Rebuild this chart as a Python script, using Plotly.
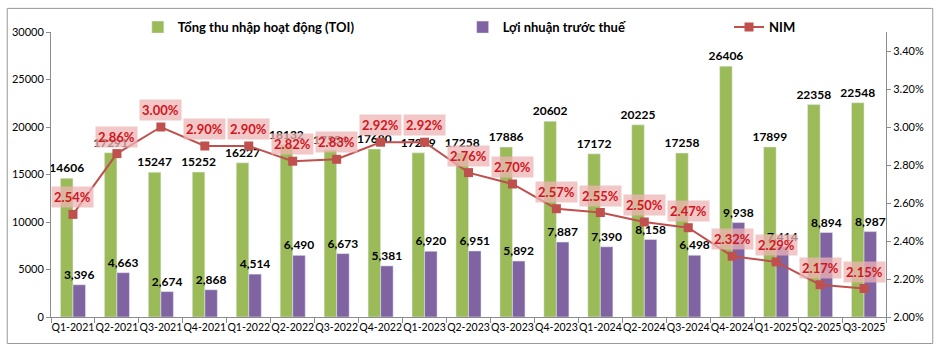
import plotly.graph_objects as go

quarters = ["Q1-2021", "Q2-2021", "Q3-2021", "Q4-2021", "Q1-2022", "Q2-2022", "Q3-2022",
            "Q4-2022", "Q1-2023", "Q2-2023", "Q3-2023", "Q4-2023", "Q1-2024", "Q2-2024",
            "Q3-2024", "Q4-2024", "Q1-2025", "Q2-2025", "Q3-2025"]
toi = [14606, 17291, 15247, 15252, 16227, 18132, 17554, 17680, 17279, 17258, 17886,
       20602, 17172, 20225, 17258, 26406, 17899, 22358, 22548]
pbt = [3396, 4663, 2674, 2868, 4514, 6490, 6673, 5381, 6920, 6951, 5892, 7887, 7390,
       8158, 6498, 9938, 7414, 8894, 8987]
nim = [2.54, 2.86, 3.00, 2.90, 2.90, 2.82, 2.83, 2.92, 2.92, 2.76, 2.70, 2.57, 2.55,
       2.50, 2.47, 2.32, 2.29, 2.17, 2.15]
left_ticks = [0, 5000, 10000, 15000, 20000, 25000, 30000]
right_ticks = [2.0, 2.2, 2.4, 2.6, 2.8, 3.0, 3.2, 3.4]

FONT = "Lato"
GREEN = "#9BBB59"
PURPLE = "#8064A2"
RED = "#C0504D"
AXIS = "#8C8C8C"

fig = go.Figure()
fig.add_trace(go.Bar(
    x=quarters, y=toi, name="Tổng thu nhập hoạt động (TOI)", marker_color=GREEN,
    text=[str(v) for v in toi], textposition="outside", cliponaxis=False,
    constraintext="none", showlegend=True,
    textfont=dict(family=FONT, size=12, color="black", weight="bold"),
    legend="legend"))
fig.add_trace(go.Bar(
    x=quarters, y=pbt, name="Lợi nhuận trước thuế", marker_color=PURPLE,
    text=[f"{v:,}" for v in pbt], textposition="outside", cliponaxis=False,
    constraintext="none", showlegend=True,
    textfont=dict(family=FONT, size=12, color="black", weight="bold"),
    legend="legend2"))
fig.add_trace(go.Scatter(
    x=quarters, y=nim, name="NIM", yaxis="y2", mode="lines+markers",
    line=dict(color=RED, width=2), marker=dict(symbol="square", size=9, color=RED),
    cliponaxis=False, showlegend=True, legend="legend3"))

annotations = []
for q, v in zip(quarters, nim):
    annotations.append(dict(
        x=q, y=v, xref="x", yref="y2", text=f"{v:.2f}%", showarrow=False,
        yanchor="bottom", yshift=6, bgcolor="rgba(238,180,180,0.75)", borderpad=2,
        font=dict(family=FONT, size=13, color="#D0161E", weight="bold")))

legend_common = dict(y=1.017, xanchor="left", yanchor="middle", orientation="h",
                     bgcolor="rgba(0,0,0,0)", font=dict(family=FONT, size=13, weight="bold"))

fig.update_layout(
    width=938, height=349,
    margin=dict(l=47, r=52, t=27, b=32),
    paper_bgcolor="white", plot_bgcolor="white",
    showlegend=True,
    barmode="group", bargap=0.43, bargroupgap=0,
    font=dict(family=FONT, size=11, color="black"),
    annotations=annotations,
    xaxis=dict(type="category", range=[-0.5, len(quarters) - 0.5], autorange=False,
               showline=True, linecolor=AXIS, ticks="outside",
               tickson="boundaries", ticklen=5, tickcolor=AXIS, showgrid=False,
               tickangle=0,
               tickfont=dict(family=FONT, size=10.5, color="black")),
    yaxis=dict(range=[0, 30000], tickvals=left_ticks, ticktext=[str(t) for t in left_ticks],
               showline=True, linecolor=AXIS,
               ticks="outside", ticklen=4, tickcolor=AXIS, showgrid=False, zeroline=False,
               tickfont=dict(family=FONT, size=11, color="black")),
    yaxis2=dict(overlaying="y", side="right", range=[2.0, 3.5], tickvals=right_ticks,
                ticktext=[f"{t:.2f}%" for t in right_ticks], showline=True,
                linecolor=AXIS, ticks="outside", ticklen=4, tickcolor=AXIS,
                showgrid=False, zeroline=False,
                tickfont=dict(family=FONT, size=11, color="black")),
    legend=dict(x=0.104, **legend_common),
    legend2=dict(x=0.493, **legend_common),
    legend3=dict(x=0.812, **legend_common),
    shapes=[dict(type="rect", xref="paper", yref="paper", x0=-0.0524, x1=1.056,
                 y0=-0.093, y1=1.0828, line=dict(color="#999999", width=1),
                 fillcolor="rgba(0,0,0,0)", layer="below")],
)

fig.write_html("out.html")
